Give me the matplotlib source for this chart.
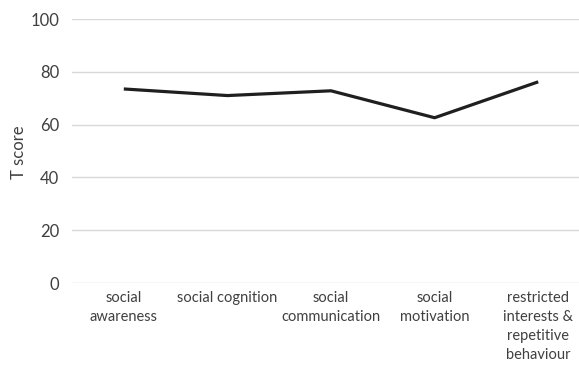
import matplotlib.pyplot as plt

plt.rcParams['font.family'] = ['Lato', 'DejaVu Sans']

# T scores per domain
domains = ['social\nawareness', 'social cognition', 'social\ncommunication',
           'social\nmotivation', 'restricted\ninterests &\nrepetitive\nbehaviour']
t_scores = [73.5, 71.0, 72.8, 62.6, 76.2]

fig = plt.figure(figsize=(5.79, 3.65), dpi=100)
# plot area runs a little past the right edge of the figure
ax = fig.add_axes([72 / 579, 1 - 283 / 365, (590 - 72) / 579, (283 - 19) / 365])

x = list(range(len(domains)))
ax.plot(x, t_scores, color='#1f1f1f', linewidth=2.3, solid_capstyle='butt', zorder=3)

ax.set_xlim(-0.5, len(domains) - 0.5)
ax.set_ylim(0, 100)
ax.set_yticks(range(0, 101, 20))
ax.set_xticks(x)
ax.set_xticklabels(domains, fontsize=10.5, color='#404040', linespacing=1.45)
ax.tick_params(axis='y', labelsize=12, labelcolor='#404040', length=0, pad=9)
ax.tick_params(axis='x', length=0, pad=6)

ax.yaxis.grid(True, color='#d9d9d9', linewidth=1)
ax.set_axisbelow(True)
for side in ['top', 'right', 'left', 'bottom']:
    ax.spines[side].set_visible(False)

fig.text(19 / 579, 1 - 152 / 365, 'T score', rotation=90, fontsize=12,
         color='#404040', ha='center', va='center')

plt.savefig('out.png', dpi=100)
